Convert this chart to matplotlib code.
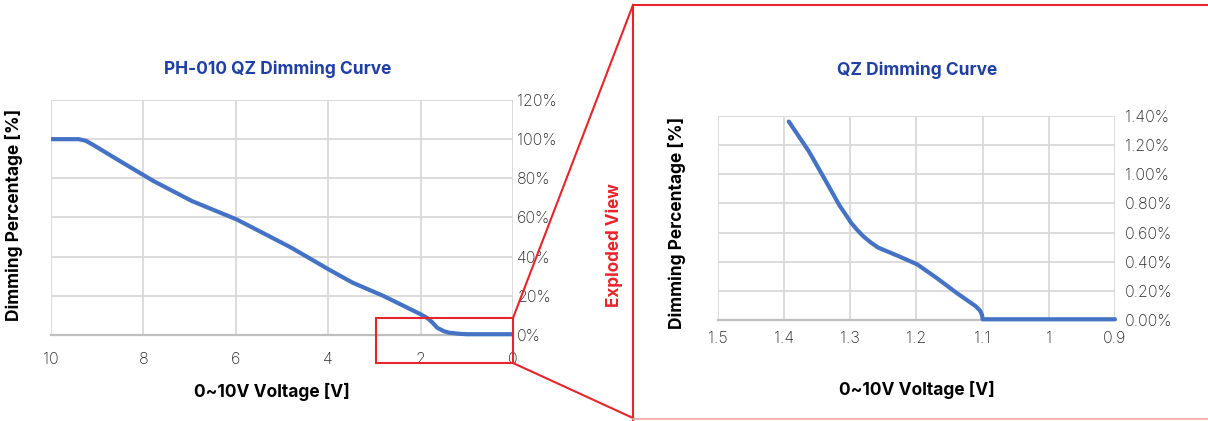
import matplotlib.pyplot as plt
from matplotlib.ticker import FuncFormatter, MultipleLocator
from matplotlib.patches import Rectangle

# full curve 0~10V
volt = [10, 9.4, 9.25, 9.11, 8.45, 7.78, 6.95, 5.98, 5.29, 4.8, 3.99, 3.47, 2.8, 2.0, 1.85, 1.75, 1.64, 1.5, 1.39, 1.15, 1.0, 0.0]
pct = [100, 100, 99.2, 97.4, 88, 78.6, 68.4, 59, 50.6, 44.6, 33.5, 26.7, 19.9, 10.6, 8.6, 6.5, 3.7, 2.0, 1.2, 0.6, 0.4, 0.4]

# exploded view near the low end
volt_zoom = [1.393, 1.363, 1.340, 1.316, 1.305, 1.299, 1.290, 1.281, 1.270, 1.258, 1.228, 1.199, 1.170, 1.140,
             1.111, 1.104, 1.101, 1.100, 1.0, 0.9]
pct_zoom = [1.362, 1.16, 0.977, 0.783, 0.71, 0.668, 0.62, 0.577, 0.535, 0.497, 0.44, 0.382, 0.29, 0.188,
            0.096, 0.065, 0.035, 0.005, 0.005, 0.005]

W, H = 1208, 421
blue = "#4472C4"
title_blue = "#1F3FA3"
red = "#E8242B"
grid_c = "#D9D9D9"
font = "Inter"

plt.rcParams['font.family'] = [font, 'DejaVu Sans']

fig = plt.figure(figsize=(W / 100, H / 100), dpi=100)


def px_box(x0, y0, x1, y1):
    return [x0 / W, 1 - y1 / H, (x1 - x0) / W, (y1 - y0) / H]


def style(ax):
    for s in ["left", "right", "top"]:
        ax.spines[s].set_visible(False)
    ax.spines["bottom"].set_color("#BFBFBF")
    ax.spines["bottom"].set_linewidth(1.6)
    ax.grid(True, color=grid_c, linewidth=1.3)
    ax.set_axisbelow(True)
    ax.tick_params(length=0, labelsize=11.5, labelcolor="#262626")
    ax.yaxis.tick_right()
    for lab in ax.get_xticklabels() + ax.get_yticklabels():
        lab.set_fontweight("light")


# left chart
ax1 = fig.add_axes(px_box(51, 100, 513, 335))
ax1.plot(volt, [p / 100 for p in pct], color=blue, lw=3, solid_capstyle="butt",
         solid_joinstyle="round", clip_on=False, zorder=4)
ax1.set_xlim(10, 0)
ax1.set_ylim(0, 1.2)
ax1.xaxis.set_major_locator(MultipleLocator(2))
ax1.yaxis.set_major_locator(MultipleLocator(0.2))
ax1.yaxis.set_major_formatter(FuncFormatter(lambda v, p: f"{v * 100:.0f}%"))
style(ax1)
ax1.tick_params(axis="x", pad=12)
ax1.tick_params(axis="y", pad=3)

# right chart
ax2 = fig.add_axes(px_box(718, 116, 1115, 320))
ax2.plot(volt_zoom, [p / 100 for p in pct_zoom], color=blue, lw=3, solid_capstyle="round",
         solid_joinstyle="round", clip_on=False, zorder=4)
ax2.set_xlim(1.5, 0.9)
ax2.set_ylim(0, 0.014)
ax2.xaxis.set_major_locator(MultipleLocator(0.1))
ax2.yaxis.set_major_locator(MultipleLocator(0.002))
ax2.xaxis.set_major_formatter(FuncFormatter(lambda v, p: f"{v:g}"))
ax2.yaxis.set_major_formatter(FuncFormatter(lambda v, p: f"{v * 100:.2f}%"))
style(ax2)
ax2.tick_params(axis="x", pad=8)
ax2.tick_params(axis="y", pad=7)

# titles and labels
bold = dict(fontsize=12.5, fontweight="bold", ha="center", va="center")
fig.text(278 / W, 1 - 69 / H, "PH-010 QZ Dimming Curve", color=title_blue, **bold)
fig.text(272 / W, 1 - 392 / H, "0~10V Voltage [V]", color="black", **bold)
fig.text(14 / W, 1 - 215 / H, "Dimming Percentage [%]", color="black", rotation=90, **bold)
fig.text(917 / W, 1 - 70 / H, "QZ Dimming Curve", color=title_blue, **bold)
fig.text(917 / W, 1 - 390 / H, "0~10V Voltage [V]", color="black", **bold)
fig.text(677 / W, 1 - 223 / H, "Dimming Percentage [%]", color="black", rotation=90, **bold)
fig.text(614 / W, 1 - 245 / H, "Exploded View", color=red, rotation=90, fontsize=12.3,
         fontweight="bold", ha="center", va="center")

# zoom callout overlay in pixel coordinates
ov = fig.add_axes([0, 0, 1, 1], facecolor="none")
ov.set_xlim(0, W)
ov.set_ylim(H, 0)
ov.axis("off")
ov.add_patch(Rectangle((376, 318), 513 - 376, 363 - 318, fill=False, edgecolor=red, lw=1.5))
ov.plot([513, 633], [318, 5], color=red, lw=1.5)
ov.plot([513, 633], [363, 418], color=red, lw=1.5)
ov.plot([633, 633, W + 5], [420, 5, 5], color=red, lw=1.5)
ov.plot([633, W + 5], [419, 419], color="#F4A6A8", lw=1.2)

fig.savefig("out.png", dpi=100)
